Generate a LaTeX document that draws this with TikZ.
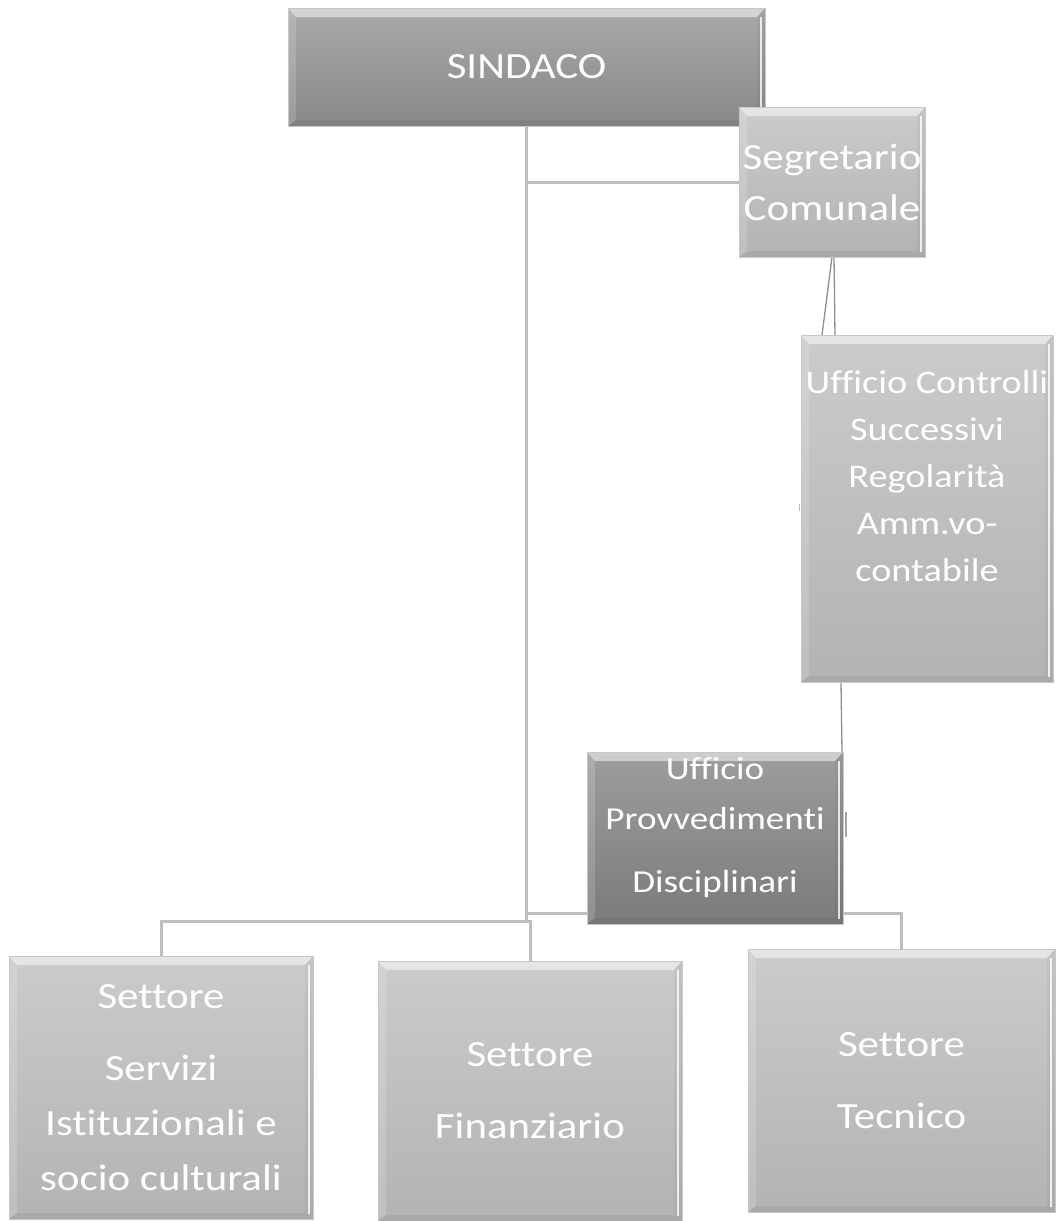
\documentclass[tikz,border=0pt]{standalone}
\usepackage{fontspec}
\setmainfont{Carlito}[FakeStretch=1.16, Ligatures=NoCommon]
\usetikzlibrary{calc}

\definecolor{dkTop}{HTML}{A9A9A9}
\definecolor{dkBot}{HTML}{888888}
\definecolor{ltTop}{HTML}{CBCBCB}
\definecolor{ltBot}{HTML}{B3B3B3}
\definecolor{pvTop}{HTML}{9D9D9D}
\definecolor{pvBot}{HTML}{7B7B7B}
\definecolor{wireGray}{HTML}{BEBEBE}
\definecolor{hairGray}{HTML}{8E8E8E}

\pgfdeclarelayer{bg}
\pgfsetlayers{bg,main}

\tikzset{
  bevel/.style={path picture={
    % light top edge
    \fill[white,opacity=.5]
      (path picture bounding box.north west) -- (path picture bounding box.north east)
      -- ([shift={(-8pt,-9pt)}]path picture bounding box.north east)
      -- ([shift={(8pt,-9pt)}]path picture bounding box.north west) -- cycle;
    % softer left edge
    \fill[white,opacity=.16]
      (path picture bounding box.north west)
      -- ([shift={(8pt,-9pt)}]path picture bounding box.north west)
      -- ([shift={(8pt,6pt)}]path picture bounding box.south west)
      -- (path picture bounding box.south west) -- cycle;
    % darker bottom and right edges
    \fill[black,opacity=.05]
      (path picture bounding box.south west)
      -- ([shift={(8pt,6pt)}]path picture bounding box.south west)
      -- ([shift={(-8pt,6pt)}]path picture bounding box.south east)
      -- (path picture bounding box.south east) -- cycle;
    \fill[black,opacity=.04]
      (path picture bounding box.north east)
      -- ([shift={(-8pt,-9pt)}]path picture bounding box.north east)
      -- ([shift={(-8pt,6pt)}]path picture bounding box.south east)
      -- (path picture bounding box.south east) -- cycle;
    % highlight line along the right side
    \draw[white,opacity=.8,line width=1.6pt]
      ([shift={(-4pt,-9pt)}]path picture bounding box.north east)
      -- ([shift={(-4pt,5pt)}]path picture bounding box.south east);
  }},
  box/.style={anchor=north west, inner sep=0pt, outer sep=0pt,
    draw=black!22, line width=0.6pt, text=white, align=center, bevel},
  darkbox/.style={box, top color=dkTop, bottom color=dkBot},
  lightbox/.style={box, top color=ltTop, bottom color=ltBot},
  provbox/.style={box, top color=pvTop, bottom color=pvBot},
  boxtext/.style={text=white, align=center, inner sep=0pt},
  wire/.style={draw=wireGray, line width=3pt},
  hair/.style={draw=hairGray, line width=1.3pt},
  big/.style={font=\fontsize{37}{55}\selectfont},
}

\begin{document}
\begin{tikzpicture}[x=1pt, y=-1pt]
  \useasboundingbox (0,0) rectangle (1059,1221);

  % boxes
  \node[darkbox, minimum width=477pt, minimum height=118pt,
        font=\fontsize{37}{50}\selectfont] (sind) at (288,8) {SINDACO};
  \node[lightbox, minimum width=186pt, minimum height=150pt,
        font=\fontsize{37}{51}\selectfont] (segr) at (739,107) {Segretario\\Comunale};
  \node[lightbox, minimum width=252pt, minimum height=347pt] (ctrl) at (801,335) {};
  \node[boxtext, font=\fontsize{33}{47}\selectfont] (ctrl-text)
        at ([yshift=32pt]ctrl.center)
        {Ufficio Controlli\\Successivi\\Regolarità\\Amm.vo-\\contabile};
  \node[provbox, minimum width=256pt, minimum height=172pt] (prov) at (587,752) {};
  \node[boxtext, font=\fontsize{32}{50}\selectfont] (prov-text)
        at ([yshift=10pt]prov.center)
        {Ufficio\\Provvedimenti\\[13pt]Disciplinari};
  \node[lightbox, big, minimum width=304pt, minimum height=263pt] (serv) at (9,956)
        {Settore\\[17pt]Servizi\\Istituzionali e\\socio culturali};
  \node[lightbox, big, minimum width=304pt, minimum height=260pt] (fin) at (378,961)
        {Settore\\[17pt]Finanziario};
  \node[lightbox, big, minimum width=307pt, minimum height=263pt] (tec) at (748,949)
        {Settore\\[17pt]Tecnico};

  % connectors
  \coordinate (tbus) at (526.5,913);
  \coordinate (sbus) at (526.5,921);
  \begin{pgfonlayer}{bg}
    \draw[wire] (sind.south) -- (sbus);
    \draw[wire] (sind.south |- segr.west) -- (segr.west);
    \draw[wire] (tbus) -| (tec.north);
    \draw[wire] (sbus) -| (serv.north);
    \draw[wire] (sbus) -- (fin.north |- sbus) -- (fin.north);
    \draw[hair] (segr.south) -- ([xshift=-10pt]segr.south |- ctrl.north);
    \draw[hair] ([xshift=2pt]segr.south) -- ([xshift=3pt]segr.south |- ctrl.north);
    \draw[hair] ([xshift=-2pt]prov.north east |- ctrl.south) -- ([xshift=-1pt]prov.north east);
  \end{pgfonlayer}
  \draw[draw=hairGray!80, line width=2.5pt]
    ([xshift=3pt,yshift=26pt]prov.east) -- ([xshift=3pt,yshift=1pt]prov.east);
  \draw[draw=hairGray!60, line width=1pt]
    ([xshift=-1.5pt,yshift=5pt]ctrl.west) -- ([xshift=-1.5pt,yshift=-2pt]ctrl.west);
\end{tikzpicture}
\end{document}
